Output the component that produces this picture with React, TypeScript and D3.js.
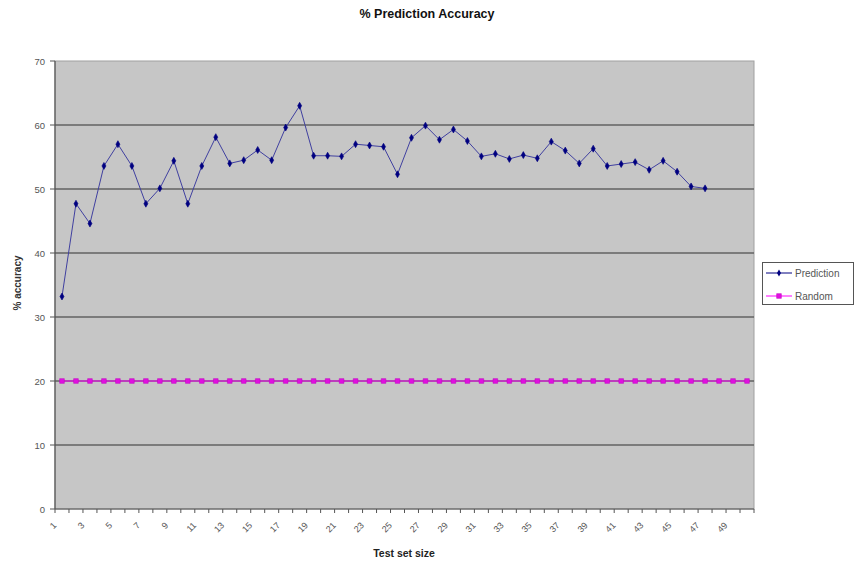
import React from "react";
import * as d3 from "d3";

const categories: string[] = [
  "1","2","3","4","5","6","7","8","9","10","11","12","13","14","15","16","17","18","19","20",
  "21","22","23","24","25","26","27","28","29","30","31","32","33","34","35","36","37","38","39","40",
  "41","42","43","44","45","46","47","48","49","50",
];

const prediction: number[] = [
  33.2, 47.7, 44.6, 53.6, 57.0, 53.6, 47.7, 50.1, 54.4, 47.7,
  53.6, 58.1, 54.0, 54.5, 56.1, 54.5, 59.6, 63.0, 55.2, 55.2,
  55.1, 57.0, 56.8, 56.6, 52.3, 58.0, 59.9, 57.7, 59.3, 57.5,
  55.1, 55.5, 54.7, 55.3, 54.8, 57.4, 56.0, 54.0, 56.3, 53.6,
  53.9, 54.2, 53.0, 54.4, 52.7, 50.4, 50.1,
];

const random: number[] = [
  20, 20, 20, 20, 20, 20, 20, 20, 20, 20,
  20, 20, 20, 20, 20, 20, 20, 20, 20, 20,
  20, 20, 20, 20, 20, 20, 20, 20, 20, 20,
  20, 20, 20, 20, 20, 20, 20, 20, 20, 20,
  20, 20, 20, 20, 20, 20, 20, 20, 20, 20,
];

const yTicks: number[] = [0, 10, 20, 30, 40, 50, 60, 70];
const xLabels: string[] = categories.filter((_, i) => i % 2 === 0);

const W = 854;
const H = 561;
const L = 55, R = 754, T = 61, B = 509;
const FONT = "'Liberation Sans', Arial, sans-serif";

export default function App() {
  const x = d3.scaleBand<string>().domain(categories).range([L, R]).padding(0);
  const y = d3.scaleLinear().domain([0, 70]).range([B, T]);
  const cx = (c: string) => (x(c) as number) + x.bandwidth() / 2;

  const line = d3
    .line<number>()
    .x((_, i) => cx(categories[i]))
    .y((d) => y(d));

  const diamond = d3.symbol().type(d3.symbolDiamond).size(14)() as string;
  const square = d3.symbol().type(d3.symbolSquare).size(22)() as string;

  const boundaries = categories.map((c) => x(c) as number).concat([R]);

  return (
    <svg
      width={W}
      height={H}
      style={{ position: "absolute", left: 0, top: 0, background: "#fff" }}
      fontFamily={FONT}
    >
      <rect x={0} y={0} width={W} height={H} fill="#fff" />
      {/* Title */}
      <text x={427} y={18} textAnchor="middle" fontSize={12.5} fontWeight="bold" fill="#111">
        % Prediction Accuracy
      </text>

      {/* Plot area */}
      <rect x={L} y={T} width={R - L} height={B - T} fill="#c6c6c6" stroke="#a0a0a0" strokeWidth={1} />

      {/* Gridlines */}
      {yTicks.filter((t) => t > 0 && t < 70).map((t) => (
        <line key={"g" + t} x1={L} x2={R} y1={y(t)} y2={y(t)} stroke="#626262" strokeWidth={1.7} />
      ))}

      {/* Axes */}
      <line x1={L} x2={L} y1={T} y2={B} stroke="#555" strokeWidth={1.2} />
      <line x1={L} x2={R} y1={B} y2={B} stroke="#555" strokeWidth={1.2} />
      {yTicks.map((t) => (
        <g key={"yt" + t}>
          <line x1={L - 5} x2={L} y1={y(t)} y2={y(t)} stroke="#555" strokeWidth={1} />
          <text x={45} y={y(t) + 3.5} textAnchor="end" fontSize={9.5} fill="#555">
            {t}
          </text>
        </g>
      ))}
      {boundaries.map((bx, i) => (
        <line key={"xt" + i} x1={bx} x2={bx} y1={B} y2={B + 4} stroke="#555" strokeWidth={1} />
      ))}
      {xLabels.map((c) => (
        <text
          key={"xl" + c}
          transform={`translate(${cx(c) - 5},${B + 17}) rotate(-45)`}
          textAnchor="end"
          fontSize={9}
          fill="#555"
        >
          {c}
        </text>
      ))}

      {/* Axis titles */}
      <text x={404} y={557} textAnchor="middle" fontSize={10.5} fontWeight="bold" fill="#222">
        Test set size
      </text>
      <text
        transform={`translate(21,283) rotate(-90)`}
        textAnchor="middle"
        fontSize={10}
        fontWeight="bold"
        fill="#333"
      >
        % accuracy
      </text>

      {/* Random series */}
      <path d={line(random) as string} fill="none" stroke="#ff00ff" strokeWidth={1} />
      {random.map((v, i) => (
        <path key={"r" + i} d={square} transform={`translate(${cx(categories[i])},${y(v)})`} fill="#e010e0" stroke="#c000c0" strokeWidth={0.5} />
      ))}

      {/* Prediction series */}
      <path d={line(prediction) as string} fill="none" stroke="#4040a0" strokeWidth={1} />
      {prediction.map((v, i) => (
        <path key={"p" + i} d={diamond} transform={`translate(${cx(categories[i])},${y(v)})`} fill="#000080" stroke="#000080" strokeWidth={0.6} />
      ))}

      {/* Legend */}
      <rect x={762.5} y={262.5} width={91} height={42} fill="#fff" stroke="#555" strokeWidth={1} />
      <line x1={766} x2={792} y1={273} y2={273} stroke="#000080" strokeWidth={1} />
      <path d={diamond} transform="translate(779,273)" fill="#000080" />
      <text x={795} y={276.5} fontSize={10} fill="#555">Prediction</text>
      <line x1={766} x2={792} y1={296} y2={296} stroke="#ff00ff" strokeWidth={1} />
      <path d={square} transform="translate(779,296)" fill="#e010e0" stroke="#c000c0" strokeWidth={0.5} />
      <text x={795} y={299.5} fontSize={10} fill="#555">Random</text>
    </svg>
  );
}
